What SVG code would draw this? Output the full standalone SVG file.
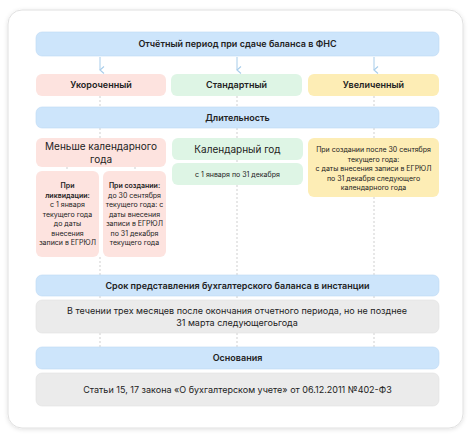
<svg xmlns="http://www.w3.org/2000/svg" width="474" height="437" viewBox="0 0 474 437">
<defs>
<filter id="sh" x="-5%" y="-5%" width="110%" height="110%">
<feDropShadow dx="0" dy="1" stdDeviation="2" flood-color="#000" flood-opacity="0.12"/>
</filter>
<marker id="ah" markerWidth="8" markerHeight="8" refX="4" refY="6" orient="auto" markerUnits="userSpaceOnUse">
<path d="M0.5,2 L4,6 L7.5,2" fill="none" stroke="#a8cdea" stroke-width="1.1"/>
</marker>
</defs>
<style>
text{font-family:Inter,"Noto Sans","Liberation Sans",sans-serif;fill:#222;text-anchor:middle}
.b{font-weight:600;font-size:9px}
.blue{fill:#cde5fb;stroke:#bcd9f3;stroke-width:0.6}
.pink{fill:#fde3df}
.green{fill:#def5e5}
.yellow{fill:#fdedb5}
.gray{fill:#ebebeb;stroke:#e0e0e0;stroke-width:0.6}
.d{stroke:#cfcfcf;stroke-width:1;stroke-dasharray:2 2;fill:none}
.a{stroke:#a8cdea;stroke-width:1;fill:none}
.m{font-size:10px}
.s{font-size:7px}
.t{font-size:9px}
</style>
<rect x="8" y="10" width="455" height="418" rx="14" fill="#fff" stroke="#e0e0e0" stroke-width="1" filter="url(#sh)"/>
<g id="connectors">
<line class="a" x1="100" y1="57" x2="100" y2="70" marker-end="url(#ah)"/>
<line class="a" x1="237" y1="57" x2="237" y2="70" marker-end="url(#ah)"/>
<line class="a" x1="374" y1="57" x2="374" y2="70" marker-end="url(#ah)"/>
<path class="d" d="M100,96V107 M237,96V107 M374,96V107 M100,128V138 M237,128V138 M374,128V138 M67,167V171 M135,167V171 M237,160V163 M100,257V275 M237,185V275 M374,197V275 M100,296V300 M237,296V300 M374,296V300 M100,333V347 M237,333V347 M374,333V347"/>
</g>
<g id="n-title"><rect class="blue" x="36" y="32" width="403" height="24" rx="6"/><text class="b" x="237.5" y="47.2">Отчётный период при сдаче баланса в ФНС</text></g>
<g id="n-short"><rect class="pink" x="36" y="74" width="130" height="22" rx="6"/><text class="b" x="101" y="88.2">Укороченный</text></g>
<g id="n-std"><rect class="green" x="171" y="74" width="131" height="22" rx="6"/><text class="b" x="236.5" y="88.2">Стандартный</text></g>
<g id="n-ext"><rect class="yellow" x="308" y="74" width="131" height="22" rx="6"/><text class="b" x="373.5" y="88.2">Увеличенный</text></g>
<g id="n-dur"><rect class="blue" x="36" y="107" width="403" height="21" rx="6"/><text class="b" x="237.5" y="120.8">Длительность</text></g>
<g id="n-less"><rect class="pink" x="36" y="138" width="130" height="29" rx="6"/><text class="m" x="101" y="150">Меньше календарного</text><text class="m" x="101" y="162.5">года</text></g>
<g id="n-liq"><rect class="pink" x="36" y="171" width="63" height="86" rx="6"/>
<text class="s" x="67.5" y="188" font-weight="600">При</text>
<text class="s" x="67.5" y="197.5" font-weight="600">ликвидации:</text>
<text class="s" x="67.5" y="207">с 1 января</text>
<text class="s" x="67.5" y="216.5">текущего года</text>
<text class="s" x="67.5" y="226">до даты</text>
<text class="s" x="67.5" y="235.5">внесения</text>
<text class="s" x="67.5" y="245">записи в ЕГРЮЛ</text></g>
<g id="n-create"><rect class="pink" x="103" y="171" width="63" height="86" rx="6"/>
<text class="s" x="134.5" y="188" font-weight="600">При создании:</text>
<text class="s" x="134.5" y="197.5">до 30 сентября</text>
<text class="s" x="134.5" y="207">текущего года: с</text>
<text class="s" x="134.5" y="216.5">даты внесения</text>
<text class="s" x="134.5" y="226">записи в ЕГРЮЛ</text>
<text class="s" x="134.5" y="235.5">по 31 декабря</text>
<text class="s" x="134.5" y="245">текущего года</text></g>
<g id="n-cal"><rect class="green" x="172" y="138" width="131" height="22" rx="6"/><text class="m" x="237.5" y="152.5">Календарный год</text></g>
<g id="n-cal2"><rect class="green" x="172" y="163" width="131" height="22" rx="6"/><text class="s" x="237.5" y="176.5">с 1 января по 31 декабря</text></g>
<g id="n-ext2"><rect class="yellow" x="308" y="138" width="131" height="59" rx="6"/>
<text class="s" x="373.5" y="152">При создании после 30 сентября</text>
<text class="s" x="373.5" y="161.5">текущего года:</text>
<text class="s" x="373.5" y="171">с даты внесения записи в ЕГРЮЛ</text>
<text class="s" x="373.5" y="180.5">по 31 декабря следующего</text>
<text class="s" x="373.5" y="190">календарного года</text></g>
<g id="n-term"><rect class="blue" x="36" y="275" width="403" height="21" rx="6"/><text class="b" x="237.5" y="288.8">Срок представления бухгалтерского баланса в инстанции</text></g>
<g id="n-term2"><rect class="gray" x="36" y="300" width="403" height="33" rx="6"/>
<text class="t" x="237" y="314">В течении трех месяцев после окончания отчетного периода, но не позднее</text>
<text class="t" x="237" y="326">31 марта следующегоьгода</text></g>
<g id="n-basis"><rect class="blue" x="36" y="347" width="403" height="22" rx="6"/><text class="b" x="237.5" y="361.2">Основания</text></g>
<g id="n-basis2"><rect class="gray" x="36" y="373" width="403" height="33" rx="6"/>
<text class="t" x="237.5" y="392.5">Статьи 15, 17 закона «О бухгалтерском учете» от 06.12.2011 №402-ФЗ</text></g>
</svg>
